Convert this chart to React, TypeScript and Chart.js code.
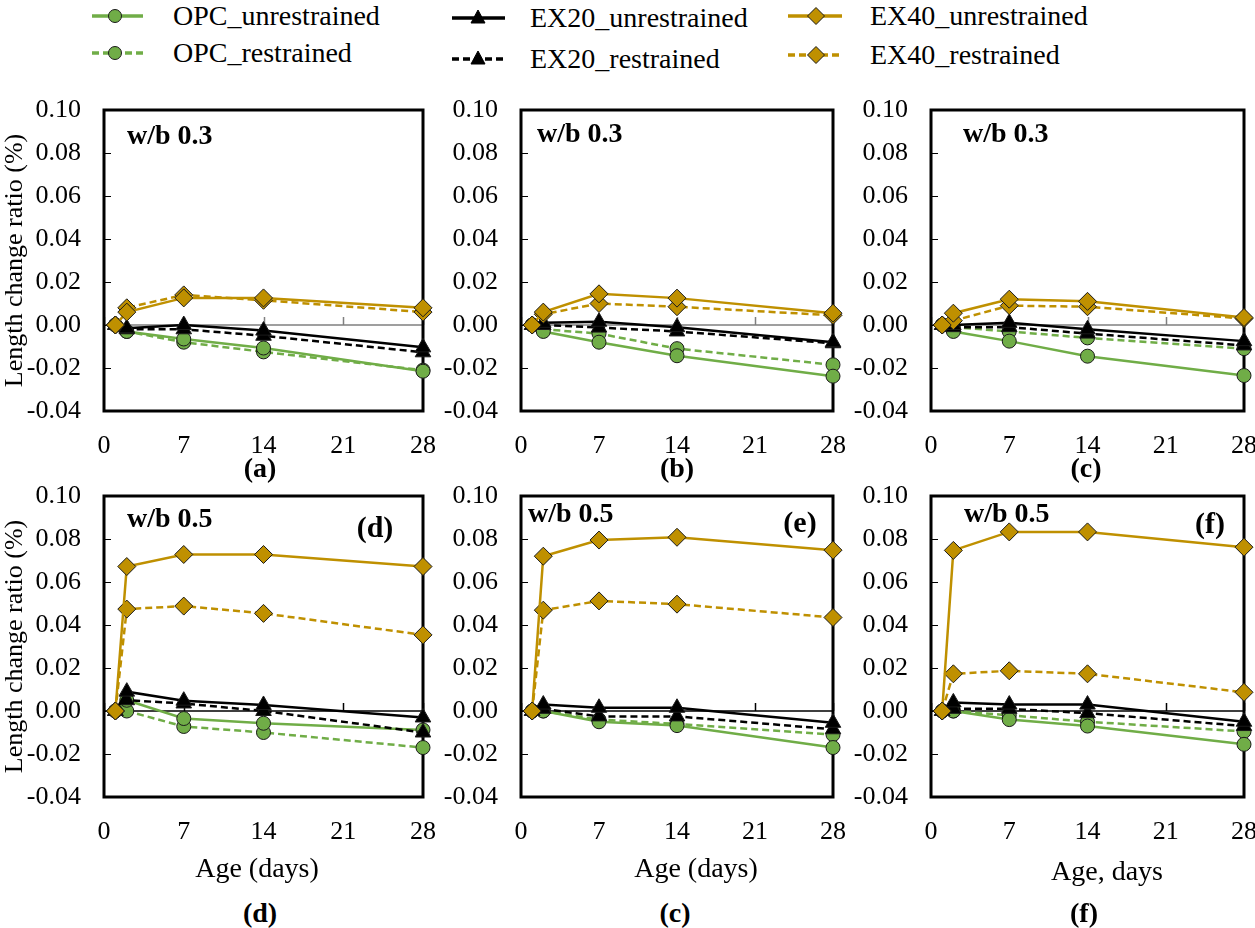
import React, { useEffect, useRef } from "react";
import { Chart, registerables } from "chart.js";

Chart.register(...registerables);

// ---------- data ----------
const AGE_DAYS = [1, 2, 7, 14, 28];
const X_TICKS = [0, 7, 14, 21, 28];
const Y_TICKS = [-0.04, -0.02, 0, 0.02, 0.04, 0.06, 0.08, 0.1];
const SERIES_NAMES = [
  "OPC_unrestrained",
  "OPC_restrained",
  "EX20_unrestrained",
  "EX20_restrained",
  "EX40_unrestrained",
  "EX40_restrained",
];

// panel (a) w/b 0.3
const A_OPC_U = [0, -0.003, -0.0065, -0.0107, -0.0215];
const A_OPC_R = [0, -0.003, -0.008, -0.0125, -0.021];
const A_EX20_U = [0, -0.0015, 0.0, -0.0026, -0.0104];
const A_EX20_R = [0, -0.002, -0.002, -0.005, -0.0127];
const A_EX40_U = [0, 0.006, 0.0126, 0.0126, 0.008];
const A_EX40_R = [0, 0.008, 0.014, 0.0115, 0.006];

// panel (b) w/b 0.3
const B_OPC_U = [0, -0.003, -0.008, -0.0143, -0.0238];
const B_OPC_R = [0, -0.002, -0.004, -0.011, -0.0185];
const B_EX20_U = [0, 0.001, 0.0015, -0.001, -0.008];
const B_EX20_R = [0, 0.0, -0.0012, -0.003, -0.0085];
const B_EX40_U = [0, 0.006, 0.0145, 0.0125, 0.0055];
const B_EX40_R = [0, 0.005, 0.01, 0.0085, 0.0045];

// panel (c) w/b 0.3
const C_OPC_U = [0, -0.003, -0.0075, -0.0145, -0.0235];
const C_OPC_R = [0, -0.001, -0.003, -0.006, -0.011];
const C_EX20_U = [0, 0.0, 0.001, -0.002, -0.0075];
const C_EX20_R = [0, -0.001, -0.001, -0.004, -0.0095];
const C_EX40_U = [0, 0.0055, 0.012, 0.011, 0.0035];
const C_EX40_R = [0, 0.002, 0.009, 0.0085, 0.003];

// panel (d) w/b 0.5
const D_OPC_U = [0, 0.005, -0.0035, -0.0057, -0.0088];
const D_OPC_R = [0, 0.0, -0.0072, -0.01, -0.017];
const D_EX20_U = [0, 0.009, 0.0048, 0.0028, -0.003];
const D_EX20_R = [0, 0.005, 0.0035, 0.0, -0.01];
const D_EX40_U = [0, 0.0672, 0.0728, 0.0728, 0.0672];
const D_EX40_R = [0, 0.0474, 0.0488, 0.0454, 0.0354];

// panel (e) w/b 0.5
const E_OPC_U = [0, 0.0, -0.005, -0.0068, -0.017];
const E_OPC_R = [0, 0.0, -0.004, -0.006, -0.011];
const E_EX20_U = [0, 0.003, 0.0015, 0.0015, -0.0055];
const E_EX20_R = [0, 0.001, -0.0025, -0.0025, -0.0085];
const E_EX40_U = [0, 0.072, 0.0795, 0.0808, 0.0748];
const E_EX40_R = [0, 0.0469, 0.0512, 0.0497, 0.0435];

// panel (f) w/b 0.5
const F_OPC_U = [0, 0.0, -0.004, -0.007, -0.0155];
const F_OPC_R = [0, 0.0, -0.002, -0.005, -0.0095];
const F_EX20_U = [0, 0.004, 0.003, 0.003, -0.005];
const F_EX20_R = [0, 0.001, 0.001, -0.001, -0.007];
const F_EX40_U = [0, 0.0747, 0.0833, 0.0833, 0.0762];
const F_EX40_R = [0, 0.0173, 0.0187, 0.0173, 0.0087];

// ---------- styles ----------
const FONT = '"Liberation Serif", "Times New Roman", Times, serif';
const GREEN = "#70AD47";
const GOLD = "#BF9000";
const BLACK = "#000000";

const SERIES_STYLE = [
  { color: GREEN, dash: [] as number[], point: "circle", r: 7, order: 2 },
  { color: GREEN, dash: [7, 4], point: "circle", r: 7, order: 2 },
  { color: BLACK, dash: [] as number[], point: "triangle", r: 9, order: 1 },
  { color: BLACK, dash: [7, 4], point: "triangle", r: 9, order: 1 },
  { color: GOLD, dash: [] as number[], point: "rectRot", r: 9, order: 0 },
  { color: GOLD, dash: [7, 4], point: "rectRot", r: 9, order: 0 },
];

type PanelDef = {
  key: string;
  left: number;
  top: number;
  width: number;
  height: number;
  yAxisWidth: number;
  padTop: number;
  padRight: number;
  xAxisHeight: number;
  yTitle: boolean;
  zeroColor: string;
  series: number[][];
};

// chart areas: x 104-423 / 521-833 / 931-1244 ; y 110-411 / 496-797
const COLS = [
  { left: 0, width: 458, yAxisWidth: 104, padRight: 35 },
  { left: 440, width: 428, yAxisWidth: 81, padRight: 35 },
  { left: 850, width: 429, yAxisWidth: 81, padRight: 35 },
];
const ROWS = [
  { top: 65, height: 420, padTop: 45, xAxisHeight: 74, zeroColor: "#808080" },
  { top: 451, height: 419, padTop: 45, xAxisHeight: 73, zeroColor: "#000000" },
];

const PANEL_SERIES = [
  [A_OPC_U, A_OPC_R, A_EX20_U, A_EX20_R, A_EX40_U, A_EX40_R],
  [B_OPC_U, B_OPC_R, B_EX20_U, B_EX20_R, B_EX40_U, B_EX40_R],
  [C_OPC_U, C_OPC_R, C_EX20_U, C_EX20_R, C_EX40_U, C_EX40_R],
  [D_OPC_U, D_OPC_R, D_EX20_U, D_EX20_R, D_EX40_U, D_EX40_R],
  [E_OPC_U, E_OPC_R, E_EX20_U, E_EX20_R, E_EX40_U, E_EX40_R],
  [F_OPC_U, F_OPC_R, F_EX20_U, F_EX20_R, F_EX40_U, F_EX40_R],
];

const PANELS: PanelDef[] = PANEL_SERIES.map((series, i) => {
  const row = ROWS[Math.floor(i / 3)];
  const col = COLS[i % 3];
  return {
    key: "p" + i,
    left: col.left,
    top: row.top,
    width: col.width,
    height: row.height,
    yAxisWidth: col.yAxisWidth,
    padTop: row.padTop,
    padRight: col.padRight,
    xAxisHeight: row.xAxisHeight,
    yTitle: i % 3 === 0,
    zeroColor: row.zeroColor,
    series,
  };
});

function decorPlugin(zeroColor: string) {
  return {
    id: "panelDecor",
    beforeDatasetsDraw(chart: any) {
      const { ctx, chartArea, scales } = chart;
      const { left, right, top, bottom } = chartArea;
      const xs = scales.x;
      const ys = scales.y;
      const y0 = ys.getPixelForValue(0);
      ctx.save();
      ctx.strokeStyle = zeroColor;
      ctx.lineWidth = 1.5;
      ctx.beginPath();
      ctx.moveTo(left, y0);
      ctx.lineTo(right, y0);
      X_TICKS.forEach((v) => {
        const px = Math.round(xs.getPixelForValue(v)) + 0.5;
        ctx.moveTo(px, y0);
        ctx.lineTo(px, y0 - 8);
      });
      ctx.stroke();
      ctx.strokeStyle = "#000";
      ctx.lineWidth = 1;
      ctx.beginPath();
      Y_TICKS.forEach((v) => {
        const py = Math.round(ys.getPixelForValue(v)) + 0.5;
        ctx.moveTo(left, py);
        ctx.lineTo(left + 7, py);
      });
      ctx.stroke();
      ctx.lineWidth = 3;
      ctx.strokeRect(left, top, right - left, bottom - top);
      ctx.restore();
    },
  };
}

function buildConfig(p: PanelDef): any {
  const datasets = p.series.map((vals, si) => {
    const st = SERIES_STYLE[si];
    return {
      label: SERIES_NAMES[si],
      data: AGE_DAYS.map((d, j) => ({ x: d, y: vals[j] })),
      borderColor: st.color,
      backgroundColor: st.color,
      borderWidth: 2.5,
      borderDash: st.dash,
      pointStyle: st.point,
      pointRadius: st.r,
      pointBackgroundColor: st.color,
      pointBorderColor: "#1a1a1a",
      pointBorderWidth: 1,
      tension: 0,
      fill: false,
      clip: false,
      order: st.order,
    };
  });
  return {
    type: "line",
    data: { datasets },
    plugins: [decorPlugin(p.zeroColor)],
    options: {
      animation: false,
      responsive: false,
      maintainAspectRatio: false,
      events: [],
      layout: {
        autoPadding: false,
        padding: { top: p.padTop, right: p.padRight, bottom: 0, left: 0 },
      },
      plugins: {
        legend: { display: false },
        tooltip: { enabled: false },
        title: { display: false },
      },
      scales: {
        x: {
          type: "linear",
          position: "bottom",
          min: 0,
          max: 28,
          afterBuildTicks: (axis: any) => {
            axis.ticks = X_TICKS.map((v) => ({ value: v }));
          },
          afterFit: (axis: any) => {
            axis.height = p.xAxisHeight;
          },
          grid: { display: false, drawTicks: false },
          border: { display: false },
          ticks: {
            padding: 20,
            color: "#000",
            font: { family: FONT, size: 26 },
            maxRotation: 0,
            callback: (v: any) => String(v),
          },
        },
        y: {
          type: "linear",
          position: "left",
          min: -0.04,
          max: 0.1,
          afterBuildTicks: (axis: any) => {
            axis.ticks = Y_TICKS.map((v) => ({ value: v }));
          },
          afterFit: (axis: any) => {
            axis.width = p.yAxisWidth;
          },
          grid: { display: false, drawTicks: false },
          border: { display: false },
          ticks: {
            padding: 23,
            color: "#000",
            font: { family: FONT, size: 26 },
            callback: (v: any) => Number(v).toFixed(2),
          },
          title: {
            display: p.yTitle,
            text: "Length change ratio (%)",
            color: "#000",
            font: { family: FONT, size: 26 },
            padding: 0,
          },
        },
      },
    },
  };
}

function PanelChart({ p }: { p: PanelDef }) {
  const ref = useRef<HTMLCanvasElement>(null);
  useEffect(() => {
    const chart = new Chart(ref.current as HTMLCanvasElement, buildConfig(p));
    return () => chart.destroy();
  }, []);
  return (
    <canvas
      ref={ref}
      width={p.width}
      height={p.height}
      style={{
        position: "absolute",
        left: p.left,
        top: p.top,
        width: p.width,
        height: p.height,
        display: "block",
      }}
    />
  );
}

function Txt(props: {
  x: number;
  y: number;
  text: string;
  size: number;
  bold?: boolean;
  align?: "center" | "left";
}) {
  const { x, y, text, size, bold, align = "center" } = props;
  return (
    <div
      style={{
        position: "absolute",
        left: x,
        top: y,
        transform: align === "center" ? "translate(-50%, -50%)" : "translate(0, -50%)",
        fontFamily: FONT,
        fontSize: size,
        fontWeight: bold ? "bold" : "normal",
        lineHeight: 1,
        whiteSpace: "nowrap",
        color: "#000",
      }}
    >
      {text}
    </div>
  );
}

const LEGEND_COLS = [
  { x1: 92, x2: 143, mx: 115, tx: 173, ys: [16, 53] },
  { x1: 452, x2: 505, mx: 478, tx: 530, ys: [18, 59] },
  { x1: 788, x2: 842, mx: 816, tx: 870, ys: [16, 55] },
];

function LegendMarker({ kind, color, cx, cy }: { kind: string; color: string; cx: number; cy: number }) {
  if (kind === "circle")
    return <circle cx={cx} cy={cy} r={6.5} fill={color} stroke="#1a1a1a" strokeWidth={1} />;
  if (kind === "triangle")
    return (
      <polygon
        points={`${cx},${cy - 8} ${cx - 7},${cy + 5} ${cx + 7},${cy + 5}`}
        fill={color}
        stroke="#000"
        strokeWidth={1}
      />
    );
  return (
    <polygon
      points={`${cx},${cy - 8.5} ${cx + 8.5},${cy} ${cx},${cy + 8.5} ${cx - 8.5},${cy}`}
      fill={color}
      stroke="#1a1a1a"
      strokeWidth={1}
    />
  );
}

function Legend() {
  const items: any[] = [];
  SERIES_NAMES.forEach((name, si) => {
    const st = SERIES_STYLE[si];
    const col = LEGEND_COLS[Math.floor(si / 2)];
    const y = col.ys[si % 2];
    items.push({ name, st, col, y, key: name });
  });
  return (
    <>
      <svg width={1255} height={80} style={{ position: "absolute", left: 0, top: 0 }}>
        {items.map((it) => (
          <g key={it.key}>
            <line
              x1={it.col.x1}
              x2={it.col.x2}
              y1={it.y}
              y2={it.y}
              stroke={it.st.color}
              strokeWidth={3.5}
              strokeDasharray={it.st.dash.length ? "7 4" : undefined}
            />
            <LegendMarker kind={it.st.point} color={it.st.color} cx={it.col.mx} cy={it.y} />
          </g>
        ))}
      </svg>
      {items.map((it) => (
        <Txt key={"t" + it.key} x={it.col.tx} y={it.y} text={it.name} size={28} align="left" />
      ))}
    </>
  );
}

export default function App() {
  return (
    <div
      style={{
        position: "absolute",
        left: 0,
        top: 0,
        width: 1255,
        height: 928,
        overflow: "hidden",
        background: "#fff",
      }}
    >
      <Legend />
      {PANELS.map((p) => (
        <PanelChart key={p.key} p={p} />
      ))}
      {/* in-panel labels */}
      <Txt x={127} y={135} text="w/b 0.3" size={28} bold align="left" />
      <Txt x={537} y={133} text="w/b 0.3" size={28} bold align="left" />
      <Txt x={963} y={133} text="w/b 0.3" size={28} bold align="left" />
      <Txt x={127} y={518} text="w/b 0.5" size={28} bold align="left" />
      <Txt x={528} y={513} text="w/b 0.5" size={28} bold align="left" />
      <Txt x={964} y={513} text="w/b 0.5" size={28} bold align="left" />
      <Txt x={375} y={527} text="(d)" size={30} bold />
      <Txt x={800} y={522} text="(e)" size={30} bold />
      <Txt x={1210} y={523} text="(f)" size={30} bold />
      {/* captions under top row */}
      <Txt x={260} y={468} text="(a)" size={28} bold />
      <Txt x={677} y={468} text="(b)" size={28} bold />
      <Txt x={1086} y={468} text="(c)" size={28} bold />
      {/* x titles bottom row */}
      <Txt x={257} y={868} text="Age (days)" size={28} />
      <Txt x={696} y={868} text="Age (days)" size={28} />
      <Txt x={1107} y={871} text="Age, days" size={28} />
      {/* captions under bottom row */}
      <Txt x={260} y={913} text="(d)" size={28} bold />
      <Txt x={675} y={913} text="(c)" size={28} bold />
      <Txt x={1084} y={913} text="(f)" size={28} bold />
    </div>
  );
}
